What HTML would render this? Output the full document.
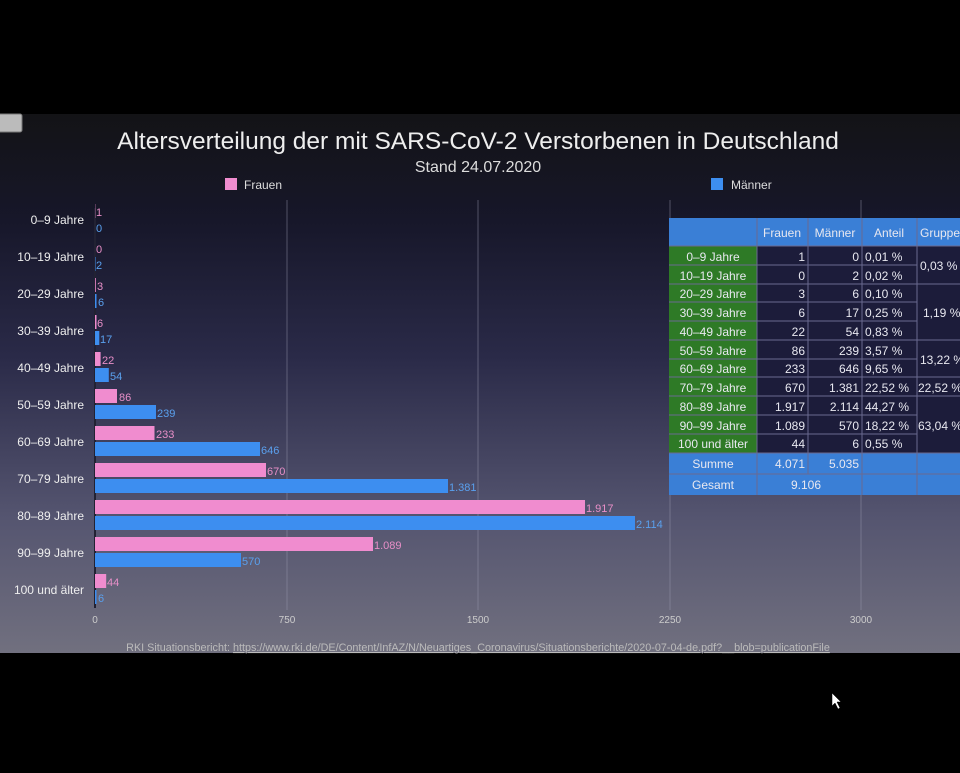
<!DOCTYPE html><html><head><meta charset="utf-8"><style>
body{margin:0;width:960px;height:768px;background:#000;overflow:hidden;font-family:"Liberation Sans",sans-serif}
</style></head><body>
<svg width="960" height="768" xmlns="http://www.w3.org/2000/svg" font-family="Liberation Sans, sans-serif">
<defs><linearGradient id="bg" x1="0" y1="0" x2="0" y2="1">
<stop offset="0" stop-color="#131316"/><stop offset="0.2" stop-color="#17172a"/><stop offset="0.45" stop-color="#2a2a48"/><stop offset="0.75" stop-color="#555570"/><stop offset="1" stop-color="#71707f"/></linearGradient></defs>
<rect x="0" y="114" width="960" height="539" fill="url(#bg)"/>
<rect x="-4" y="114" width="26" height="18" rx="2" fill="#bbb" stroke="#777"/>
<text x="478" y="149" fill="#eee" font-size="24.5" text-anchor="middle">Altersverteilung der mit SARS-CoV-2 Verstorbenen in Deutschland</text>
<text x="478" y="172" fill="#ddd" font-size="16" text-anchor="middle">Stand 24.07.2020</text>
<rect x="225" y="178" width="12" height="12" fill="#f08ccf"/><text x="244" y="189" fill="#ddd" font-size="12">Frauen</text>
<rect x="711" y="178" width="12" height="12" fill="#3d8ef0"/><text x="731" y="189" fill="#ddd" font-size="12">Männer</text>
<g stroke="#9a9ab0" stroke-width="1" opacity="0.45"><line x1="287" y1="200" x2="287" y2="610"/><line x1="478" y1="200" x2="478" y2="610"/><line x1="670" y1="200" x2="670" y2="610"/><line x1="861" y1="200" x2="861" y2="610"/></g>
<line x1="95" y1="208" x2="95" y2="608" stroke="#223" stroke-width="2"/>
<g font-size="10" fill="#ccc" text-anchor="middle"><text x="95" y="623">0</text><text x="287" y="623">750</text><text x="478" y="623">1500</text><text x="670" y="623">2250</text><text x="861" y="623">3000</text></g>
<g font-size="12" fill="#eee" text-anchor="end">
<text x="84" y="224">0–9 Jahre</text><text x="84" y="261">10–19 Jahre</text><text x="84" y="298">20–29 Jahre</text><text x="84" y="335">30–39 Jahre</text><text x="84" y="372">40–49 Jahre</text><text x="84" y="409">50–59 Jahre</text><text x="84" y="446">60–69 Jahre</text><text x="84" y="483">70–79 Jahre</text><text x="84" y="520">80–89 Jahre</text><text x="84" y="557">90–99 Jahre</text><text x="84" y="594">100 und älter</text></g>
<g fill="#f08ccf">
<rect x="95" y="204" width="0.3" height="14"/><rect x="95" y="278" width="0.8" height="14"/><rect x="95" y="315" width="1.5" height="14"/><rect x="95" y="352" width="5.6" height="14"/><rect x="95" y="389" width="22" height="14"/><rect x="95" y="426" width="59.5" height="14"/><rect x="95" y="463" width="171" height="14"/><rect x="95" y="500" width="490" height="14"/><rect x="95" y="537" width="278" height="14"/><rect x="95" y="574" width="11.2" height="14"/></g>
<g fill="#3d8ef0">
<rect x="95" y="257" width="0.5" height="14"/><rect x="95" y="294" width="1.5" height="14"/><rect x="95" y="331" width="4.3" height="14"/><rect x="95" y="368" width="13.8" height="14"/><rect x="95" y="405" width="61" height="14"/><rect x="95" y="442" width="165" height="14"/><rect x="95" y="479" width="353" height="14"/><rect x="95" y="516" width="540" height="14"/><rect x="95" y="553" width="146" height="14"/><rect x="95" y="590" width="1.5" height="14"/></g>
<g font-size="11" fill="#e88fc8">
<text x="96" y="216">1</text><text x="96" y="253">0</text><text x="97" y="290">3</text><text x="97" y="327">6</text><text x="102" y="364">22</text><text x="119" y="401">86</text><text x="156" y="438">233</text><text x="267" y="475">670</text><text x="586" y="512">1.917</text><text x="374" y="549">1.089</text><text x="107" y="586">44</text></g>
<g font-size="11" fill="#5aa0ee">
<text x="96" y="232">0</text><text x="96" y="269">2</text><text x="98" y="306">6</text><text x="100" y="343">17</text><text x="110" y="380">54</text><text x="157" y="417">239</text><text x="261" y="454">646</text><text x="449" y="491">1.381</text><text x="636" y="528">2.114</text><text x="242" y="565">570</text><text x="98" y="602">6</text></g>
<text x="478" y="651" font-size="10.8" fill="#bbb" text-anchor="middle">RKI Situationsbericht: <tspan text-decoration="underline">https://www.rki.de/DE/Content/InfAZ/N/Neuartiges_Coronavirus/Situationsberichte/2020-07-04-de.pdf?__blob=publicationFile</tspan></text>
<rect x="669" y="218" width="295" height="277" fill="#1c1c3a"/>
<rect x="669" y="218" width="295" height="28" fill="#3a7fd6"/>
<rect x="669" y="453" width="295" height="42" fill="#3a7fd6"/>
<rect x="669" y="246" width="88" height="207" fill="#2e7a26"/>
<g stroke="#6a6a90" stroke-width="1">
<line x1="757" y1="218" x2="757" y2="495"/><line x1="808" y1="218" x2="808" y2="474"/><line x1="862" y1="218" x2="862" y2="495"/><line x1="917" y1="218" x2="917" y2="495"/>
<line x1="669" y1="246" x2="960" y2="246"/>
<line x1="669" y1="265" x2="917" y2="265"/><line x1="669" y1="284" x2="960" y2="284"/><line x1="669" y1="302" x2="917" y2="302"/><line x1="669" y1="321" x2="917" y2="321"/><line x1="669" y1="340" x2="960" y2="340"/><line x1="669" y1="359" x2="917" y2="359"/><line x1="669" y1="377" x2="960" y2="377"/><line x1="669" y1="396" x2="960" y2="396"/><line x1="669" y1="415" x2="917" y2="415"/><line x1="669" y1="434" x2="917" y2="434"/><line x1="669" y1="453" x2="960" y2="453"/><line x1="669" y1="474" x2="960" y2="474"/></g>
<g font-size="12" fill="#e8e8f0">
<text x="782" y="237" text-anchor="middle">Frauen</text><text x="835" y="237" text-anchor="middle">Männer</text><text x="889" y="237" text-anchor="middle">Anteil</text><text x="920" y="237">Gruppe</text>
<g text-anchor="middle"><text x="713" y="261">0–9 Jahre</text><text x="713" y="280">10–19 Jahre</text><text x="713" y="298">20–29 Jahre</text><text x="713" y="317">30–39 Jahre</text><text x="713" y="336">40–49 Jahre</text><text x="713" y="355">50–59 Jahre</text><text x="713" y="373">60–69 Jahre</text><text x="713" y="392">70–79 Jahre</text><text x="713" y="411">80–89 Jahre</text><text x="713" y="430">90–99 Jahre</text><text x="713" y="448">100 und älter</text>
<text x="713" y="468">Summe</text><text x="713" y="489">Gesamt</text><text x="806" y="489">9.106</text></g>
<g text-anchor="end"><text x="805" y="261">1</text><text x="805" y="280">0</text><text x="805" y="298">3</text><text x="805" y="317">6</text><text x="805" y="336">22</text><text x="805" y="355">86</text><text x="805" y="373">233</text><text x="805" y="392">670</text><text x="805" y="411">1.917</text><text x="805" y="430">1.089</text><text x="805" y="448">44</text><text x="805" y="468">4.071</text>
<text x="859" y="261">0</text><text x="859" y="280">2</text><text x="859" y="298">6</text><text x="859" y="317">17</text><text x="859" y="336">54</text><text x="859" y="355">239</text><text x="859" y="373">646</text><text x="859" y="392">1.381</text><text x="859" y="411">2.114</text><text x="859" y="430">570</text><text x="859" y="448">6</text><text x="859" y="468">5.035</text></g>
<text x="865" y="261">0,01 %</text><text x="865" y="280">0,02 %</text><text x="865" y="298">0,10 %</text><text x="865" y="317">0,25 %</text><text x="865" y="336">0,83 %</text><text x="865" y="355">3,57 %</text><text x="865" y="373">9,65 %</text><text x="865" y="392">22,52 %</text><text x="865" y="411">44,27 %</text><text x="865" y="430">18,22 %</text><text x="865" y="448">0,55 %</text>
<text x="920" y="270">0,03 %</text><text x="923" y="317">1,19 %</text><text x="920" y="364">13,22 %</text><text x="918" y="392">22,52 %</text><text x="918" y="430">63,04 %</text>
</g>
<path d="M832 693 L832 706 L835 703 L838 709 L840 708 L837 702 L841 702 Z" fill="#fff" stroke="#000" stroke-width="0.5"/>
</svg>
</body></html>
